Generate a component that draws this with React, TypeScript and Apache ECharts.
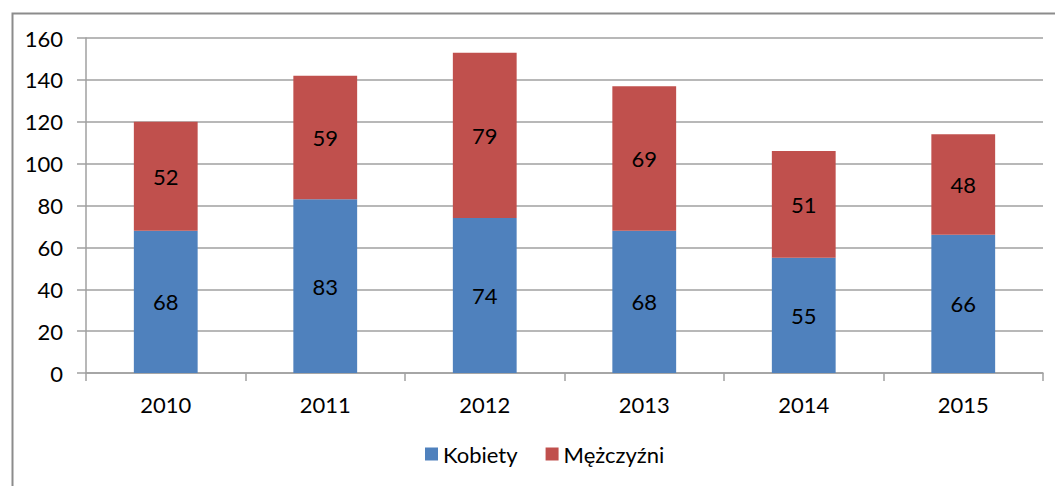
import React, { useEffect, useRef } from "react";
import * as echarts from "echarts";

const years = ["2010", "2011", "2012", "2013", "2014", "2015"];
const kobiety = [68, 83, 74, 68, 55, 66];
const mezczyzni = [52, 59, 79, 69, 51, 48];
const seriesNames = ["Kobiety", "Mężczyźni"];

const FONT = "Lato";
const FS = 22;

export default function App() {
  const ref = useRef<HTMLDivElement>(null);
  useEffect(() => {
    if (!ref.current) return;
    const chart = echarts.init(ref.current, undefined, { renderer: "svg" });
    const label = {
      show: true,
      position: "inside",
      color: "#000",
      fontSize: FS,
      fontFamily: FONT,
    };
    chart.setOption({
      animation: false,
      backgroundColor: "#fff",
      textStyle: { fontFamily: FONT },
      graphic: [
        {
          type: "rect",
          left: 10,
          top: 11,
          shape: { x: 0, y: 0, width: 1100, height: 520 },
          style: { fill: "none", stroke: "#8c8c8c", lineWidth: 2 },
          silent: true,
        },
      ],
      grid: { left: 86, right: 12, top: 38, bottom: 113 },
      legend: {
        top: 438,
        left: 420,
        itemWidth: 13,
        itemHeight: 13,
        itemGap: 28,
        icon: "rect",
        textStyle: { fontSize: FS, color: "#000", fontFamily: FONT },
        data: seriesNames,
      },
      xAxis: {
        type: "category",
        data: years,
        boundaryGap: true,
        axisLine: { show: true, lineStyle: { color: "#a0a0a0", width: 1.5 } },
        axisTick: { show: true, alignWithLabel: false, length: 8, lineStyle: { color: "#a0a0a0", width: 1.5 } },
        axisLabel: { fontSize: FS, color: "#000", margin: 20, fontFamily: FONT },
      },
      yAxis: {
        type: "value",
        min: 0,
        max: 160,
        interval: 20,
        axisLine: { show: true, lineStyle: { color: "#a0a0a0", width: 1.5 } },
        axisTick: { show: true, length: 9, lineStyle: { color: "#a0a0a0", width: 1.5 } },
        axisLabel: { fontSize: FS, color: "#000", margin: 23, fontFamily: FONT },
        splitLine: { show: true, lineStyle: { color: "#a0a0a0", width: 1.5 } },
      },
      series: [
        {
          name: seriesNames[0],
          type: "bar",
          stack: "total",
          data: kobiety,
          barWidth: "40%",
          itemStyle: { color: "#4f81bd" },
          label,
        },
        {
          name: seriesNames[1],
          type: "bar",
          stack: "total",
          data: mezczyzni,
          barWidth: "40%",
          itemStyle: { color: "#c0504d" },
          label,
        },
      ],
    });
    return () => chart.dispose();
  }, []);
  return (
    <div
      ref={ref}
      style={{ position: "fixed", left: 0, top: 0, width: 1055, height: 486 }}
    />
  );
}
